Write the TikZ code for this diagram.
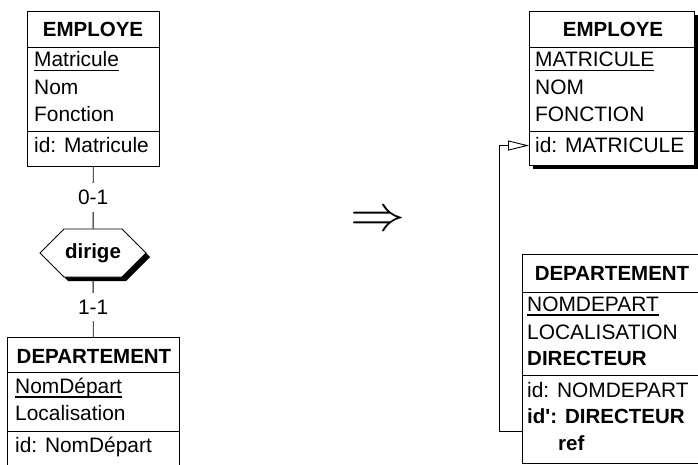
\documentclass[tikz,border=0pt]{standalone}
\usepackage{fontspec}
\setmainfont{Liberation Sans}
\usetikzlibrary{arrows.meta,shapes.symbols,shadows}
\newcommand\keyul[1]{\setbox0\hbox{#1}\rlap{\rule[-4.5pt]{\wd0}{1.8pt}}\box0}
\tikzset{
  entbox/.style    = {draw,line width=0.9pt,fill=white,anchor=north west,inner sep=0pt},
  boxshadow/.style = {drop shadow={shadow xshift=4pt,shadow yshift=-4pt,fill=black,opacity=1}},
  enttitle/.style  = {anchor=base,inner sep=0pt,font=\fontsize{20.5}{24}\selectfont\bfseries},
  attr/.style      = {anchor=base west,inner sep=0pt,font=\fontsize{20.9}{24}\selectfont},
  battr/.style     = {attr,font=\fontsize{20.5}{24}\selectfont\bfseries},
  sepline/.style   = {line width=0.9pt},
  reltype/.style   = {signal,signal to=west and east,draw,line width=0.9pt,fill=white,
                      minimum width=106pt,minimum height=48pt,inner sep=0pt,
                      font=\fontsize{20.5}{24}\selectfont\bfseries},
  link/.style      = {line width=0.9pt},
  card/.style      = {fill=white,inner xsep=2pt,inner ysep=7pt,font=\fontsize{20.9}{24}\selectfont},
  refarr/.style    = {-{Triangle[open,length=21pt,width=10pt]},line width=0.9pt}
}

\begin{document}
\begin{tikzpicture}[x=1pt,y=-1pt]
  \clip (0,0) rectangle (698,465);
  % schema conceptuel
  \node[entbox,minimum width=132pt,minimum height=155pt] (empL) at (27,11) {};
  \draw[sepline] (empL.west |- 0,47) -- (empL.east |- 0,47);
  \draw[sepline] (empL.west |- 0,131) -- (empL.east |- 0,131);
  \node[enttitle] (empL-t) at (93,37) {EMPLOYE};
  \node[attr] (empL-a1) at (34,67) {\keyul{Matricule}};
  \node[attr] (empL-a2) at (34,95) {Nom};
  \node[attr] (empL-a3) at (34,122) {Fonction};
  \node[attr] (empL-id) at (34,153) {id: Matricule};

  \node[reltype,boxshadow] (dirige) at (93,253) {dirige};

  \node[entbox,minimum width=172pt,minimum height=140pt] (depL) at (7,337) {};
  \draw[sepline] (depL.west |- 0,372) -- (depL.east |- 0,372);
  \draw[sepline] (depL.west |- 0,431) -- (depL.east |- 0,431);
  \node[enttitle] (depL-t) at (94,363) {DEPARTEMENT};
  \node[attr] (depL-a1) at (15,393) {\keyul{NomDépart}};
  \node[attr] (depL-a2) at (15,420) {Localisation};
  \node[attr] (depL-id) at (15,452) {id: NomDépart};

  \draw[link] (empL) -- node[card] (card1) {0-1} (dirige);
  \draw[link] (dirige) -- node[card] (card2) {1-1} (depL);

  \node (impl) at (377.5,221) {\scalebox{5.5}[5]{$\Rightarrow$}};

  % schema logique
  \node[entbox,boxshadow,minimum width=165pt,minimum height=154pt] (empR) at (529,11) {};
  \draw[sepline] (empR.west |- 0,47) -- (empR.east |- 0,47);
  \draw[sepline] (empR.west |- 0,131) -- (empR.east |- 0,131);
  \node[enttitle] (empR-t) at (613,37) {EMPLOYE};
  \node[attr] (empR-a1) at (535,67) {\keyul{MATRICULE}};
  \node[attr] (empR-a2) at (535,95) {NOM};
  \node[attr] (empR-a3) at (535,122) {FONCTION};
  \node[attr] (empR-id) at (535,153) {id: MATRICULE};

  \node[entbox,minimum width=181pt,minimum height=209pt] (depR) at (522,254) {};
  \draw[sepline] (depR.west |- 0,292) -- (depR.east |- 0,292);
  \draw[sepline] (depR.west |- 0,375) -- (depR.east |- 0,375);
  \node[enttitle] (depR-t) at (612,280) {DEPARTEMENT};
  \node[attr] (depR-a1) at (527,311) {\keyul{NOMDEPART}};
  \node[attr] (depR-a2) at (527,339) {LOCALISATION};
  \node[battr] (depR-a3) at (527,365) {DIRECTEUR};
  \node[attr] (depR-id) at (527,397) {id: NOMDEPART};
  \node[battr] (depR-id2) at (527,423) {id\textquotesingle:\hspace{8pt}DIRECTEUR};
  \node[battr] (depR-ref) at (558,450) {ref};

  \coordinate (refbend) at (499,431);
  \draw[refarr] (depR.west |- refbend) -- (refbend) |- (empR.west |- empR-id);
\end{tikzpicture}
\end{document}
